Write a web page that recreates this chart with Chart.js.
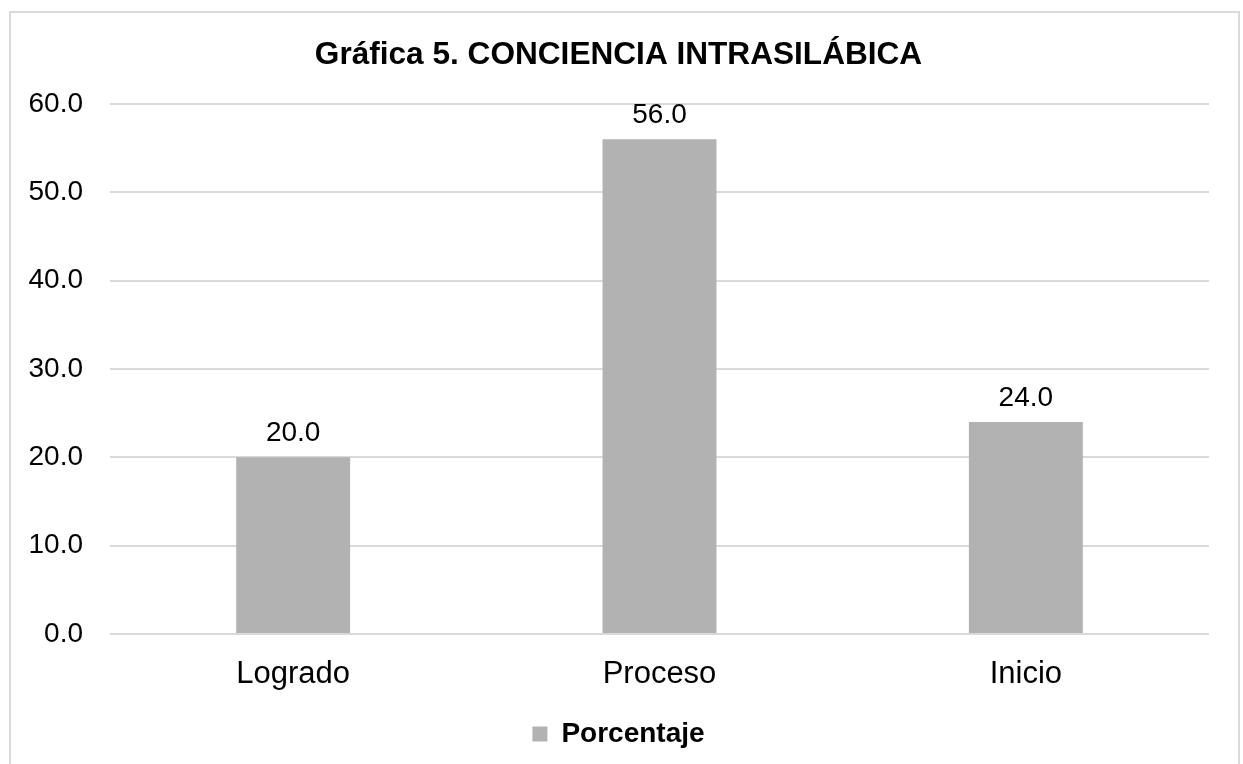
<!DOCTYPE html>
<html>
<head>
<meta charset="utf-8">
<script src="https://cdn.jsdelivr.net/npm/chart.js@4"></script>
<style>
body { margin: 0; background: #fff; }
#box { position: absolute; left: 9px; top: 11px; width: 1227px; height: 770px; border: 2px solid #d9d9d9; }
</style>
</head>
<body>
<div id="box"><canvas id="myChart" width="1227" height="751"></canvas></div>
<script>
// datos de la grafica
var categorias = ['Logrado', 'Proceso', 'Inicio'];
var porcentaje = [20.0, 56.0, 24.0];
var ticksY = [0, 10, 20, 30, 40, 50, 60];

// etiquetas encima de las barras
var etiquetas = {
  id: 'etiquetas',
  afterDatasetsDraw(chart) {
    var ctx = chart.ctx;
    var meta = chart.getDatasetMeta(0);
    ctx.save();
    ctx.font = '28px "Liberation Sans", Arial, sans-serif';
    ctx.fillStyle = '#000';
    ctx.textAlign = 'center';
    ctx.textBaseline = 'alphabetic';
    meta.data.forEach(function (bar, i) {
      ctx.fillText(porcentaje[i].toFixed(1), bar.x, bar.y - 16);
    });
    ctx.restore();
  }
};

Chart.defaults.font.family = '"Liberation Sans", Arial, sans-serif';
Chart.defaults.color = '#000';

var ctx = document.getElementById('myChart').getContext('2d');
var myChart = new Chart(ctx, {
  type: 'bar',
  data: {
    labels: categorias,
    datasets: [{
      label: 'Porcentaje',
      data: porcentaje,
      backgroundColor: '#b2b2b2',
      borderWidth: 0,
      barPercentage: 0.311,
      categoryPercentage: 1
    }]
  },
  options: {
    responsive: false,
    animation: false,
    layout: { padding: { left: 17, right: 29, top: 0, bottom: 6 } },
    plugins: {
      title: {
        display: true,
        text: 'Gráfica 5. CONCIENCIA INTRASILÁBICA',
        font: { size: 31.6, weight: 'bold' },
        color: '#000',
        padding: { top: 23, bottom: 30 }
      },
      legend: {
        position: 'bottom',
        labels: {
          boxWidth: 15,
          boxHeight: 15,
          font: { size: 28, weight: 'bold' },
          color: '#000',
          padding: 10
        }
      },
      tooltip: { enabled: false }
    },
    scales: {
      y: {
        min: 0,
        max: 60,
        afterBuildTicks: function (scale) {
          scale.ticks = ticksY.map(function (v) { return { value: v }; });
        },
        afterFit: function (scale) { scale.width = 82; },
        ticks: {
          font: { size: 28 },
          padding: 27,
          callback: function (v) { return Number(v).toFixed(1); }
        },
        grid: { color: '#d9d9d9', lineWidth: 2, drawTicks: false },
        border: { display: false }
      },
      x: {
        afterFit: function (scale) { scale.height = 76; },
        ticks: { font: { size: 31 }, padding: 22 },
        grid: { display: false, drawTicks: false },
        border: { display: false }
      }
    }
  },
  plugins: [etiquetas]
});
</script>
</body>
</html>
